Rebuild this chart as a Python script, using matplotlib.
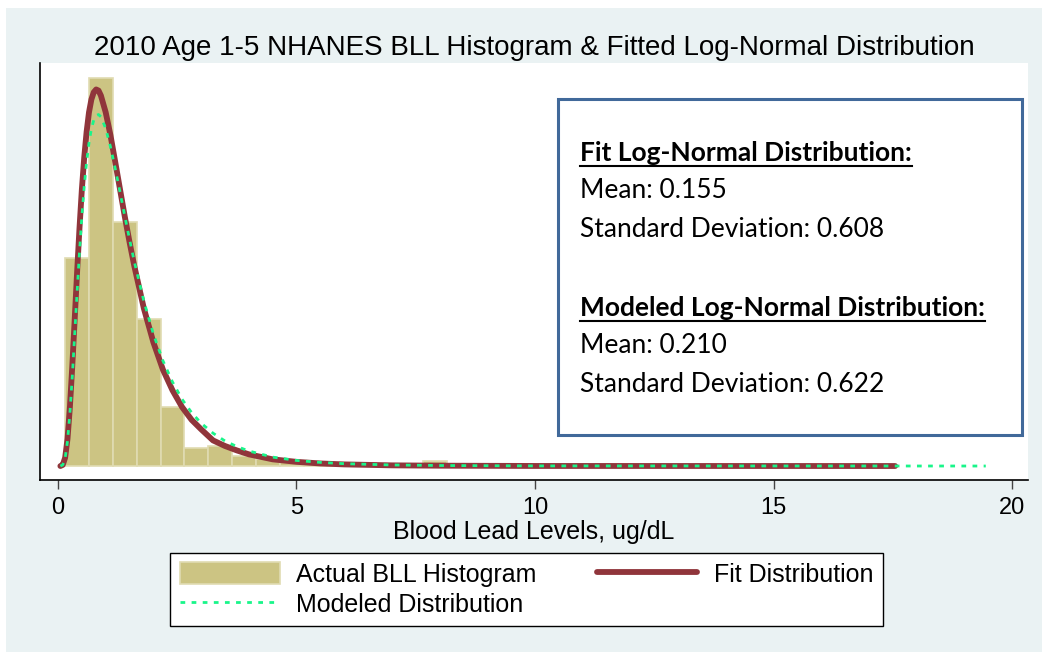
import numpy as np
import matplotlib
matplotlib.use("Agg")
import matplotlib.pyplot as plt
from matplotlib.patches import Rectangle
from matplotlib.lines import Line2D

# histogram (density), bins of 0.5 ug/dL
bin_edges = [0.15, 0.65, 1.15, 1.65, 2.15, 2.65, 3.15, 3.65, 4.15, 4.65,
             5.15, 5.65, 6.15, 6.65, 7.15, 7.65, 8.15]
hist_density = [0.373, 0.697, 0.438, 0.264, 0.106, 0.033, 0.036, 0.018, 0.012,
                0.007, 0.005, 0.003, 0.002, 0.001, 0.001, 0.009]

# fitted log-normal curve
fit_x = [0.05, 0.1, 0.15, 0.2, 0.25, 0.3, 0.35, 0.4, 0.45, 0.5, 0.55, 0.6, 0.65,
         0.7, 0.75, 0.8, 0.85, 0.9, 1.0, 1.1, 1.2, 1.3, 1.4, 1.5, 1.6, 1.8, 2.0,
         2.2, 2.4, 2.6, 2.8, 3.0, 3.25, 3.5, 3.75, 4.0, 4.5, 5.0, 5.5, 6.0, 7.0,
         8.0, 10.0, 17.55]
fit_y = [0.0, 0.002, 0.015, 0.049, 0.106, 0.180, 0.263, 0.347, 0.426, 0.496,
         0.554, 0.600, 0.635, 0.658, 0.671, 0.676, 0.674, 0.665, 0.635, 0.594,
         0.546, 0.497, 0.448, 0.402, 0.359, 0.283, 0.222, 0.173, 0.136, 0.106,
         0.083, 0.066, 0.046, 0.036, 0.028, 0.021, 0.012, 0.0075, 0.0046, 0.0029,
         0.0012, 0.0006, 0.0001, 0.0]

# modeled log-normal curve
model_x = [0.05, 0.1, 0.15, 0.2, 0.25, 0.3, 0.35, 0.4, 0.45, 0.5, 0.55, 0.6, 0.65,
           0.7, 0.75, 0.8, 0.85, 0.9, 1.0, 1.1, 1.2, 1.3, 1.4, 1.5, 1.6, 1.8, 2.0,
           2.2, 2.4, 2.6, 2.8, 3.0, 3.25, 3.5, 3.75, 4.0, 4.5, 5.0, 5.5, 6.0, 7.0,
           8.0, 10.0, 19.45]
model_y = [0.0, 0.002, 0.014, 0.045, 0.095, 0.161, 0.236, 0.311, 0.383, 0.447,
           0.502, 0.546, 0.580, 0.605, 0.621, 0.629, 0.631, 0.627, 0.606, 0.573,
           0.534, 0.492, 0.449, 0.407, 0.367, 0.296, 0.237, 0.189, 0.151, 0.120,
           0.096, 0.077, 0.059, 0.045, 0.035, 0.027, 0.016, 0.010, 0.0065, 0.0042,
           0.0019, 0.0009, 0.0002, 0.0]

xticks = [0, 5, 10, 15, 20]
title = "2010 Age 1-5 NHANES BLL Histogram & Fitted Log-Normal Distribution"
xlabel = "Blood Lead Levels, ug/dL"
legend_labels = ["Actual BLL Histogram", "Modeled Distribution", "Fit Distribution"]
box_lines = [("Fit Log-Normal Distribution:", True),
             ("Mean: 0.155", False),
             ("Standard Deviation: 0.608", False),
             ("Modeled Log-Normal Distribution:", True),
             ("Mean: 0.210", False),
             ("Standard Deviation: 0.622", False)]
box_baselines = [160.7, 198, 236.7, 315.7, 353, 391.7]

plt.rcParams["font.family"] = ["Liberation Sans", "DejaVu Sans"]

W, H = 1042, 652
def fx(px): return px / W
def fy(py): return 1 - py / H

fig = plt.figure(figsize=(W / 100, H / 100), dpi=100)
fig.patch.set_facecolor("white")
fig.add_artist(Rectangle((fx(6), 0), 1 - fx(6), fy(8), transform=fig.transFigure,
                         fc="#eaf2f3", ec="none", zorder=-10))

ax = fig.add_axes([fx(40), fy(480), fx(1028) - fx(40), fy(63) - fy(480)])
ax.set_facecolor("white")

bars = ax.bar(bin_edges[:-1], hist_density, width=np.diff(bin_edges), align="edge",
              color="#ccc483", edgecolor="#e0dbb2", linewidth=1.2, zorder=2)
fit_line, = ax.plot(fit_x, fit_y, color="#90353b", lw=4.2, solid_capstyle="round", zorder=3)
model_line, = ax.plot(model_x, model_y, color="#19f58a", lw=2, dashes=(1.7, 2.3), zorder=4)

for s in ["top", "right"]:
    ax.spines[s].set_visible(False)
for s in ["left", "bottom"]:
    ax.spines[s].set_color("black")
    ax.spines[s].set_linewidth(1.2)

ax.set_xlim(-0.377, 20.335)
ax.set_ylim(-0.0251, 0.7235)
ax.set_xticks(xticks)
ax.set_yticks([])
ax.tick_params(axis="x", direction="out", length=6.5, width=1, color="#444444",
               pad=5.5, labelsize=17)

ax.set_title(title, fontsize=20, pad=0, y=(480 - 55) / 417, va="baseline")
ax.set_xlabel(xlabel, fontsize=18)
ax.xaxis.set_label_coords(0.5, (480 - 539) / 417)
ax.xaxis.label.set_va("baseline")

leg = fig.legend([bars, model_line, fit_line], legend_labels, ncol=2,
                 loc="upper left", bbox_to_anchor=(fx(170), fy(553)),
                 fontsize=18, fancybox=False, edgecolor="black", framealpha=1,
                 handlelength=4.0, handleheight=0.92, handletextpad=0.68,
                 columnspacing=2.4, labelspacing=0.24, borderpad=0.38, borderaxespad=0)
leg.get_frame().set_linewidth(1.0)

# text box with fit parameters
fig.add_artist(Rectangle((fx(558), fy(435)), fx(1022) - fx(558), fy(99) - fy(435),
                         transform=fig.transFigure, fc="white", ec="#41699a", lw=2.2))
texts = []
for (s, bold), yb in zip(box_lines, box_baselines):
    t = fig.text(fx(580), fy(yb), s, family=["Lato", "DejaVu Sans"], fontsize=19,
                 fontweight="bold" if bold else "normal", va="baseline", ha="left")
    texts.append((t, bold, yb))

fig.canvas.draw()
renderer = fig.canvas.get_renderer()
for t, bold, yb in texts:
    if bold:
        bb = t.get_window_extent(renderer)
        fig.add_artist(Line2D([bb.x0 / W, bb.x1 / W], [fy(yb + 5)] * 2,
                              transform=fig.transFigure, color="black", lw=1.5))

fig.savefig("out.png", dpi=100)
